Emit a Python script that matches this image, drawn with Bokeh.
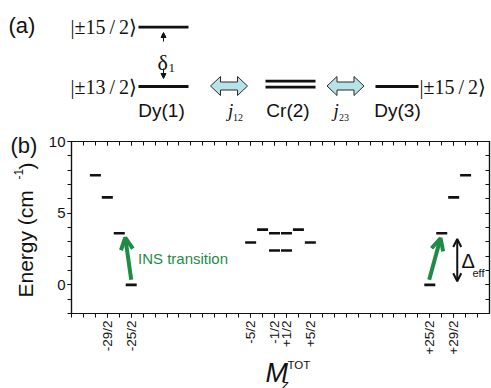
import math
from bokeh.plotting import figure
from bokeh.models import (Range1d, FixedTicker, LinearAxis, Label, Arrow,
                          OpenHead, NormalHead, Plot)
from bokeh.layouts import column
from bokeh.embed import file_html
from bokeh.resources import INLINE

# ---------------- data (panel b) ----------------
left_M = [-15.5, -14.5, -13.5, -12.5]
left_E = [7.65, 6.1, 3.6, 0.0]
mid_M = [-2.5, -1.5, -0.5, -0.5, 0.5, 0.5, 1.5, 2.5]
mid_E = [2.95, 3.85, 3.6, 2.4, 3.6, 2.4, 3.85, 2.95]
right_M = [12.5, 13.5, 14.5, 15.5]
right_E = [0.0, 3.6, 6.1, 7.65]

tick_M = [-14.5, -12.5, -2.5, -0.5, 0.5, 2.5, 12.5, 14.5]
tick_labels = ["-29/2", "-25/2", "-5/2", "-1/2", "+1/2", "+5/2", "+25/2", "+29/2"]
minor_M = [k + 0.5 for k in range(-18, 17)]
y_major = [0, 5, 10]
y_minor = list(range(-2, 11))

ins_left = [(-12.5, 0.35), (-13.0, 3.3)]
ins_right = [(12.45, 0.35), (13.4, 3.25)]
delta_eff = [(14.8, 0.25), (14.8, 3.2)]

# ---------------- styles / layout ----------------
SANS = "Liberation Sans"
SERIF = "Liberation Serif"
GREEN = "#1f8c46"
BLACK = "#111111"
W, H = 491, 388
H_BOT = 258
FL, FR = 71, W - 2           # chart frame left/right (px)
FT, FB = 11, H_BOT - 75      # chart frame top/bottom (px within chart figure)
NOALIGN = {"frame_align": False} if "frame_align" in Plot.properties() else {}

def tlabel(fig, x, y, text, size, font=SANS, align="left", baseline="middle",
           style="normal", color=BLACK, angle=0):
    fig.add_layout(Label(x=x, y=y, text=text, text_font=font,
                         text_font_size=f"{size}px", text_align=align, text_baseline=baseline,
                         text_font_style=style, text_color=color, angle=angle))

# ============ full-canvas layer: panel (a) and texts around the chart ============
top = figure(width=W, height=H, x_range=Range1d(0, W), y_range=Range1d(H, 0),
             toolbar_location=None, output_backend="svg", min_border=0,
             x_axis_location=None, y_axis_location=None, **NOALIGN)
top.grid.visible = False
top.outline_line_color = None
top.background_fill_color = "white"
top.border_fill_color = "white"

lev_x0 = [138, 138, 265, 265, 375]
lev_x1 = [188, 188, 315, 315, 418]
lev_y = [26.7, 86, 80.6, 86.6, 86]
top.segment(x0=lev_x0, x1=lev_x1, y0=lev_y, y1=lev_y, line_width=2.8, line_color=BLACK)

for cx in [228.5, 345.0]:
    cy, hl, hh, sh, hd = 85.5, 18.5, 9.5, 4.0, 10.0
    xs = [cx - hl, cx - hl + hd, cx - hl + hd, cx + hl - hd, cx + hl - hd, cx + hl,
          cx + hl - hd, cx + hl - hd, cx - hl + hd, cx - hl + hd]
    ys = [cy, cy - hh, cy - sh, cy - sh, cy - hh, cy, cy + hh, cy + sh, cy + sh, cy + hh]
    top.patch(xs, ys, fill_color="#b5e3e8", line_color="#2b2b2b", line_width=1.0)

top.add_layout(Arrow(x_start=163, y_start=41, x_end=163, y_end=32, line_width=1, line_color=BLACK,
                     end=NormalHead(size=5, fill_color=BLACK, line_color=BLACK)))
top.add_layout(Arrow(x_start=163, y_start=68, x_end=163, y_end=78, line_width=1, line_color=BLACK,
                     end=NormalHead(size=5, fill_color=BLACK, line_color=BLACK)))

TS = "\u2009"
tlabel(top, 8, 25, "(a)", 22)
tlabel(top, 70, 26.5, f"|±15{TS}/{TS}2⟩", 20, font=SERIF)
tlabel(top, 70, 86, f"|±13{TS}/{TS}2⟩", 20, font=SERIF)
tlabel(top, 419, 86, f"|±15{TS}/{TS}2⟩", 20, font=SERIF)
tlabel(top, 157, 61.5, "δ", 22, font=SERIF)
tlabel(top, 168, 67, "1", 13, font=SERIF)
tlabel(top, 161, 110, "Dy(1)", 19, align="center")
tlabel(top, 287.5, 110, "Cr(2)", 19, align="center")
tlabel(top, 397, 110, "Dy(3)", 19, align="center")
tlabel(top, 227.5, 110, "j", 19, font=SERIF, style="italic")
tlabel(top, 232.5, 116.5, "12", 10, font=SERIF)
tlabel(top, 333, 110, "j", 19, font=SERIF, style="italic")
tlabel(top, 338.5, 116.5, "23", 10, font=SERIF)

# panel (b) label, y-axis title and x-axis title
tlabel(top, 10, 145, "(b)", 22)
tlabel(top, 25, 297, "Energy (cm", 21, angle=math.pi / 2)
tlabel(top, 18, 179, "-1", 12, angle=math.pi / 2)
tlabel(top, 26, 169, ")", 21, angle=math.pi / 2)
tlabel(top, 265, 372, "M", 27, style="italic")
tlabel(top, 287, 364, "TOT", 11.5)
tlabel(top, 281.5, 383.5, "z", 13, style="italic")

# ================= chart (panel b) =================
p = figure(width=W, height=H_BOT, x_range=Range1d(-17.5, 17.5), y_range=Range1d(-2, 10),
           toolbar_location=None, output_backend="svg",
           min_border_left=FL, min_border_right=W - FR, min_border_top=FT, min_border_bottom=H_BOT - FB,
           margin=(-H_BOT, 0, 0, 0), **NOALIGN)
p.grid.visible = False
p.background_fill_color = "white"
p.border_fill_color = None
p.outline_line_color = BLACK
p.outline_line_width = 1.2

def px2x(px):
    return -17.5 + (px - FL) / (FR - FL) * 35.0
def py2y(py):  # py measured from top of the chart figure
    return 10 - (py - FT) / (FB - FT) * 12.0

xa = p.xaxis[0]
xa.ticker = FixedTicker(ticks=tick_M, minor_ticks=minor_M)
xa.major_label_overrides = {float(k): v for k, v in zip(tick_M, tick_labels)}
xa.major_label_orientation = math.pi / 2
xa.major_label_standoff = 3
xa.major_label_text_font_size = "13.5px"

ya = p.yaxis[0]
ya.ticker = FixedTicker(ticks=y_major, minor_ticks=y_minor)
ya.major_label_standoff = 2
ya.major_label_text_font_size = "15px"

for a in [xa, ya]:
    a.major_tick_in = 0
    a.major_tick_out = 4
    a.minor_tick_in = 0
    a.minor_tick_out = 4
    a.major_label_text_font = SANS
    a.major_label_text_color = BLACK
    a.axis_line_color = BLACK
    a.axis_line_width = 1.2
    a.major_tick_line_color = BLACK
    a.minor_tick_line_color = BLACK

top_ax = LinearAxis(ticker=FixedTicker(ticks=tick_M, minor_ticks=minor_M),
                    major_label_overrides={float(k): "" for k in tick_M})
right_ax = LinearAxis(ticker=FixedTicker(ticks=y_major, minor_ticks=y_minor),
                      major_label_overrides={float(k): "" for k in y_major})
for a in [top_ax, right_ax]:
    a.major_tick_in = 4
    a.major_tick_out = 0
    a.minor_tick_in = 4
    a.minor_tick_out = 0
    a.major_label_standoff = 0
    a.major_label_text_font_size = "1px"
    a.axis_line_color = BLACK
    a.axis_line_width = 1.2
    a.major_tick_line_color = BLACK
    a.minor_tick_line_color = BLACK
p.add_layout(top_ax, "above")
p.add_layout(right_ax, "right")

for M, E in [(left_M, left_E), (mid_M, mid_E), (right_M, right_E)]:
    p.dash(x=M, y=E, size=11, line_width=2.6, line_color=BLACK)

for (s, e) in [ins_left, ins_right]:
    p.add_layout(Arrow(x_start=s[0], y_start=s[1], x_end=e[0], y_end=e[1],
                       line_color=GREEN, line_width=4,
                       end=OpenHead(size=12, line_width=4, line_color=GREEN)))
p.add_layout(Arrow(x_start=delta_eff[0][0], y_start=delta_eff[0][1],
                   x_end=delta_eff[1][0], y_end=delta_eff[1][1],
                   line_color=BLACK, line_width=2,
                   start=OpenHead(size=8, line_width=2, line_color=BLACK),
                   end=OpenHead(size=8, line_width=2, line_color=BLACK)))

tlabel(p, -11.93, 1.86, "INS transition", 15, color=GREEN)
tlabel(p, px2x(461), py2y(130), "Δ", 20)
tlabel(p, px2x(472), py2y(142), "eff", 11)

layout = column(top, p, spacing=0)
open("out.html", "w").write(file_html(layout, INLINE))
